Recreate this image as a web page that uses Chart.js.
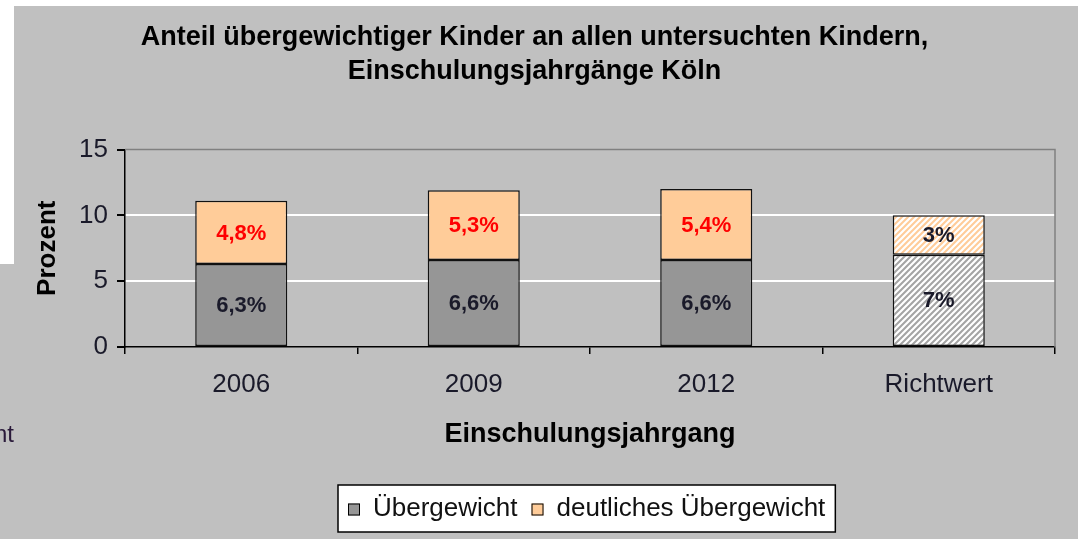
<!DOCTYPE html>
<html>
<head>
<meta charset="utf-8">
<script src="https://cdn.jsdelivr.net/npm/chart.js@4/dist/chart.umd.min.js"></script>
<style>
    html, body { margin: 0; padding: 0; background: #fff; }
    #wrap { width: 1078px; height: 539px; }
</style>
</head>
<body>
<div id="wrap"><canvas id="myChart" width="1078" height="539"></canvas></div>
<script>
const categories = ['2006', '2009', '2012', 'Richtwert'];
const uebergewicht = [6.3, 6.6, 6.6, 7];
const deutlich = [4.8, 5.3, 5.4, 3];
const labelsUeber = ['6,3%', '6,6%', '6,6%', '7%'];
const labelsDeutlich = ['4,8%', '5,3%', '5,4%', '3%'];
const yTicks = [0, 5, 10, 15];

const FONT = "'Liberation Sans', Arial, sans-serif";
const BG = '#c0c0c0';
const GRAY = '#969696';
const PEACH = '#ffcc99';

function hatch(base) {
    const c = document.createElement('canvas');
    c.width = 6; c.height = 6;
    const g = c.getContext('2d');
    g.fillStyle = base;
    g.fillRect(0, 0, 6, 6);
    g.strokeStyle = '#ffffff';
    g.lineWidth = 2.2;
    g.beginPath();
    g.moveTo(-1, 7); g.lineTo(7, -1);
    g.moveTo(-4, 4); g.lineTo(4, -4);
    g.moveTo(2, 10); g.lineTo(10, 2);
    g.stroke();
    return g.createPattern(c, 'repeat');
}

const backdrop = {
    id: 'backdrop',
    beforeDraw(chart) {
        const ctx = chart.ctx;
        ctx.save();
        ctx.fillStyle = '#fff';
        ctx.fillRect(0, 0, chart.width, chart.height);
        ctx.fillStyle = BG;
        ctx.fillRect(14, 6, chart.width - 14, chart.height - 6);
        ctx.fillRect(0, 264, 14, chart.height - 264);
        ctx.fillStyle = '#2a1a3a';
        ctx.font = '24px ' + FONT;
        ctx.textAlign = 'right';
        ctx.textBaseline = 'middle';
        ctx.fillText('nt', 14, 435);
        ctx.restore();
    },
    beforeDatasetsDraw(chart) {
        const a = chart.chartArea;
        const ctx = chart.ctx;
        ctx.save();
        ctx.strokeStyle = '#808080';
        ctx.lineWidth = 1.5;
        ctx.beginPath();
        ctx.moveTo(a.left, a.top);
        ctx.lineTo(a.right, a.top);
        ctx.lineTo(a.right, a.bottom);
        ctx.stroke();
        ctx.restore();
    },
    afterDatasetsDraw(chart) {
        const ctx = chart.ctx;
        ctx.save();
        ctx.font = 'bold 22px ' + FONT;
        ctx.textAlign = 'center';
        ctx.textBaseline = 'middle';
        const texts = [labelsUeber, labelsDeutlich];
        chart.data.datasets.forEach((ds, di) => {
            chart.getDatasetMeta(di).data.forEach((bar, i) => {
                const p = bar.getProps(['x', 'y', 'base'], true);
                ctx.fillStyle = (di === 1 && i < 3) ? '#ff0000' : '#1a1a2a';
                ctx.fillText(texts[di][i], p.x, (p.y + p.base) / 2 + 1);
            });
        });
        ctx.restore();
    },
    afterDraw(chart) {
        // legend box
        const ctx = chart.ctx;
        ctx.save();
        ctx.font = '26px ' + FONT;
        ctx.textBaseline = 'middle';
        const items = chart.data.datasets.map(ds => ({ text: ds.label, color: ds.legendColor }));
        const sq = 12, gap = 13, between = 14, pad = 10;
        let w = pad * 2;
        items.forEach((it, i) => {
            w += sq + gap + ctx.measureText(it.text).width + (i ? between : 0);
        });
        const cx = (chart.chartArea.left + chart.chartArea.right) / 2 - 3;
        const x0 = Math.round(cx - w / 2), y0 = 485, h = 47;
        ctx.fillStyle = '#fff';
        ctx.fillRect(x0, y0, w, h);
        ctx.strokeStyle = '#000';
        ctx.lineWidth = 1.5;
        ctx.strokeRect(x0, y0, w, h);
        let x = x0 + pad;
        const ym = y0 + h / 2;
        items.forEach((it, i) => {
            if (i) x += between;
            ctx.fillStyle = it.color;
            ctx.fillRect(x, ym - sq / 2 + 1, sq, sq);
            ctx.lineWidth = 1;
            ctx.strokeStyle = '#000';
            ctx.strokeRect(x + 0.5, ym - sq / 2 + 1.5, sq - 1, sq - 1);
            x += sq + gap;
            ctx.fillStyle = '#111';
            ctx.fillText(it.text, x, ym);
            x += ctx.measureText(it.text).width;
        });
        ctx.restore();
    }
};

new Chart(document.querySelector('#myChart').getContext('2d'), {
    type: 'bar',
    data: {
        labels: categories,
        datasets: [{
            label: 'Übergewicht',
            data: uebergewicht,
            backgroundColor: [GRAY, GRAY, GRAY, hatch('#a4a4a4')],
            legendColor: GRAY,
            borderColor: '#111',
            borderWidth: 1.5,
            borderSkipped: false,
            categoryPercentage: 1,
            barPercentage: 0.396
        }, {
            label: 'deutliches Übergewicht',
            data: deutlich,
            backgroundColor: [PEACH, PEACH, PEACH, hatch('#ffcc99')],
            legendColor: PEACH,
            borderColor: '#111',
            borderWidth: 1.5,
            borderSkipped: false,
            categoryPercentage: 1,
            barPercentage: 0.396
        }]
    },
    options: {
        responsive: false,
        animation: false,
        layout: { padding: { left: 14, right: 23, top: 0, bottom: 80 } },
        plugins: {
            legend: { display: false },
            tooltip: { enabled: false },
            title: {
                display: true,
                text: ['Anteil übergewichtiger Kinder an allen untersuchten Kindern,', 'Einschulungsjahrgänge Köln'],
                color: '#000',
                font: { family: FONT, size: 27, weight: 'bold', lineHeight: 1.25 },
                padding: { top: 21, bottom: 61 }
            }
        },
        scales: {
            x: {
                stacked: true,
                afterFit(s) { s.height = 539 - 347 - 80; },
                border: { color: '#000', width: 1.5 },
                grid: { offset: true, drawOnChartArea: false, tickLength: 7, tickColor: '#000', lineWidth: 1.5 },
                ticks: { color: '#1a1a2a', padding: 15, font: { family: FONT, size: 26 } },
                title: {
                    display: true,
                    text: 'Einschulungsjahrgang',
                    color: '#000',
                    font: { family: FONT, size: 27, weight: 'bold' },
                    padding: { bottom: 8 }
                }
            },
            y: {
                stacked: true,
                min: 0,
                max: 15,
                afterFit(s) { s.width = 125 - 14; },
                afterBuildTicks(s) { s.ticks = yTicks.map(v => ({ value: v })); },
                border: { color: '#000', width: 1.5 },
                grid: {
                    color: ctx => ctx.tick && (ctx.tick.value === 15 || ctx.tick.value === 0) ? 'rgba(0,0,0,0)' : '#ffffff',
                    lineWidth: 2,
                    tickLength: 8,
                    tickColor: '#000'
                },
                ticks: { color: '#1a1a2a', padding: 9, font: { family: FONT, size: 26 } },
                title: {
                    display: true,
                    text: 'Prozent',
                    color: '#000',
                    font: { family: FONT, size: 26, weight: 'bold' },
                    padding: { top: 18 }
                }
            }
        }
    },
    plugins: [backdrop]
});
</script>
</body>
</html>
